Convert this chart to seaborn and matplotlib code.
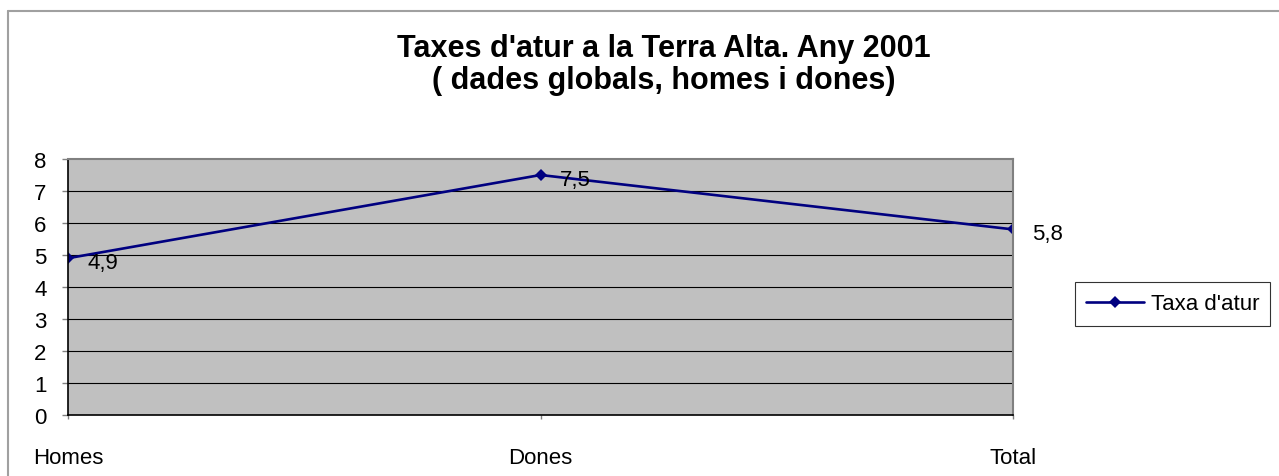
import matplotlib
matplotlib.use('Agg')
import matplotlib.pyplot as plt
import seaborn as sns
import pandas as pd
from matplotlib.lines import Line2D

# Data
categories = ['Homes', 'Dones', 'Total']
taxa_atur = [4.9, 7.5, 5.8]
value_labels = ['4,9', '7,5', '5,8']
y_ticks = [0, 1, 2, 3, 4, 5, 6, 7, 8]

df = pd.DataFrame({'categoria': categories, 'taxa': taxa_atur})

sns.set_style('white')
plt.rcParams['font.family'] = ['Liberation Sans', 'DejaVu Sans']
plt.rcParams['text.color'] = 'black'
plt.rcParams['xtick.labelcolor'] = 'black'
plt.rcParams['ytick.labelcolor'] = 'black'

W, H = 1279, 477
fig = plt.figure(figsize=(W / 100, H / 100), dpi=100)
ax = fig.add_axes([68 / W, (H - 416) / H, (1013 - 68) / W, (416 - 160) / H])
ax.set_facecolor('#C0C0C0')

sns.lineplot(data=df, x='categoria', y='taxa', ax=ax, color='#000080',
             linewidth=1.9, marker='D', markersize=6.5, markeredgewidth=0,
             label="Taxa d'atur", sort=False)

ax.set_xlim(0, len(categories) - 1)
ax.set_ylim(0, 8)
ax.set_yticks(y_ticks)
ax.set_yticklabels([str(t) for t in y_ticks])
ax.set_xticks(range(len(categories)))
ax.set_xticklabels(categories)
ax.set_xlabel('')
ax.set_ylabel('')

# horizontal gridlines
for t in y_ticks[1:-1]:
    ax.axhline(t, color='black', linewidth=0.8, zorder=1)

for side in ['top', 'right']:
    ax.spines[side].set_color('#808080')
    ax.spines[side].set_linewidth(1.5)
for side in ['left', 'bottom']:
    ax.spines[side].set_color('black')
    ax.spines[side].set_linewidth(1.2)

ax.tick_params(axis='y', which='major', direction='out', length=4.5, width=1,
               color='#808080', pad=11, labelsize=16, left=True, labelcolor='black')
ax.tick_params(axis='x', which='major', direction='out', length=3, width=1,
               color='#808080', pad=20, labelsize=16, bottom=True, labelcolor='black')

# data labels
for i, (v, lab) in enumerate(zip(taxa_atur, value_labels)):
    ax.annotate(lab, xy=(i, v), xytext=(14, -3), textcoords='offset points',
                ha='left', va='center', fontsize=16, color='black',
                annotation_clip=False)

fig.text(664 / W, 1 - 65 / H, "Taxes d'atur a la Terra Alta. Any 2001\n( dades globals, homes i dones)",
         ha='center', va='center', fontsize=22, fontweight='bold', linespacing=1.05,
         color='black')

leg = ax.legend(loc='center left', bbox_to_anchor=(1075 / W, 1 - 305 / H),
                bbox_transform=fig.transFigure, frameon=True, fancybox=False,
                fontsize=16, handlelength=2.6, borderpad=0.5, handletextpad=0.3,
                borderaxespad=0)
leg.get_frame().set_edgecolor('black')
leg.get_frame().set_linewidth(0.8)
for txt in leg.get_texts():
    txt.set_color('black')

# outer chart border (top and left)
fig.add_artist(Line2D([8 / W, 1], [1 - 12 / H, 1 - 12 / H], transform=fig.transFigure,
                      color='#A0A0A0', linewidth=1.5))
fig.add_artist(Line2D([8 / W, 8 / W], [0, 1 - 12 / H], transform=fig.transFigure,
                      color='#A0A0A0', linewidth=1.5))

fig.savefig('out.png', dpi=100, facecolor='white')
